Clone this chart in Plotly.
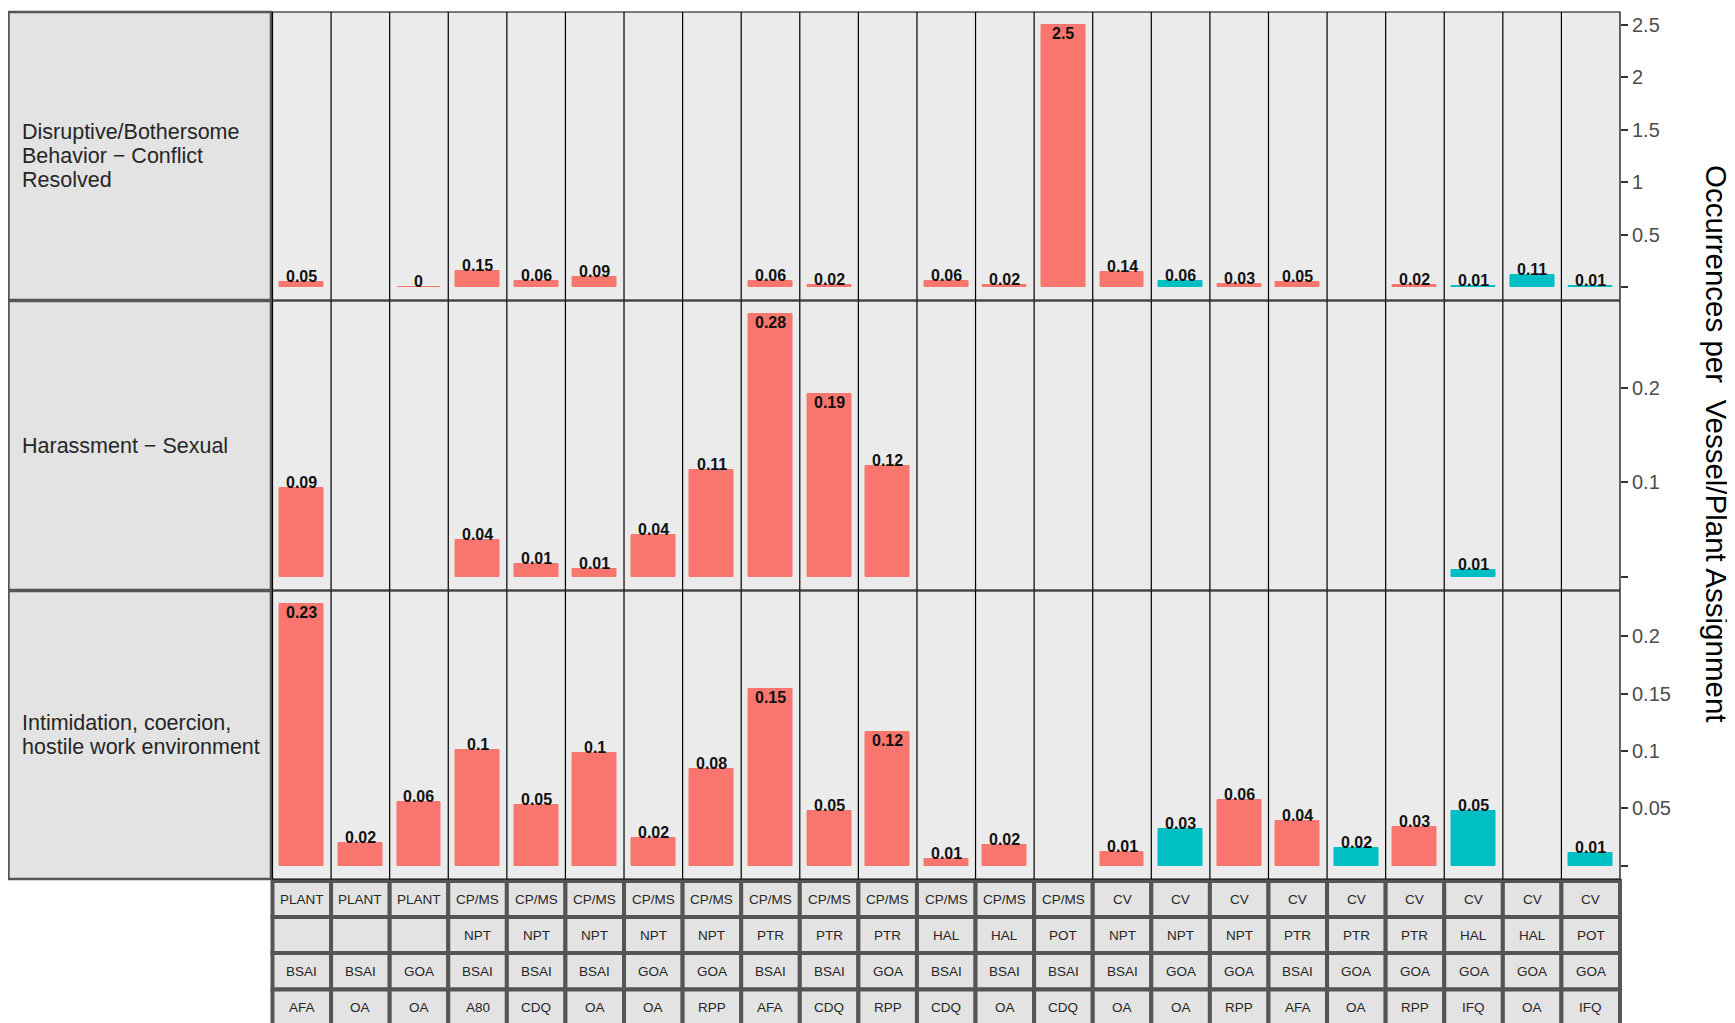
import plotly.graph_objects as go

# ---------------- data ----------------
facet_lines = [
    ["Disruptive/Bothersome", "Behavior \u2212 Conflict", "Resolved"],
    ["Harassment \u2212 Sexual"],
    ["Intimidation, coercion,", "hostile work environment"],
]

sector = ["PLANT", "PLANT", "PLANT", "CP/MS", "CP/MS", "CP/MS", "CP/MS", "CP/MS", "CP/MS", "CP/MS", "CP/MS",
          "CP/MS", "CP/MS", "CP/MS", "CV", "CV", "CV", "CV", "CV", "CV", "CV", "CV", "CV"]
gear = ["", "", "", "NPT", "NPT", "NPT", "NPT", "NPT", "PTR", "PTR", "PTR",
        "HAL", "HAL", "POT", "NPT", "NPT", "NPT", "PTR", "PTR", "PTR", "HAL", "HAL", "POT"]
region = ["BSAI", "BSAI", "GOA", "BSAI", "BSAI", "BSAI", "GOA", "GOA", "BSAI", "BSAI", "GOA",
          "BSAI", "BSAI", "BSAI", "BSAI", "GOA", "GOA", "BSAI", "GOA", "GOA", "GOA", "GOA", "GOA"]
program = ["AFA", "OA", "OA", "A80", "CDQ", "OA", "OA", "RPP", "AFA", "CDQ", "RPP",
           "CDQ", "OA", "CDQ", "OA", "OA", "RPP", "AFA", "OA", "RPP", "IFQ", "OA", "IFQ"]
coverage = ["Full", "Full", "Full", "Full", "Full", "Full", "Full", "Full", "Full", "Full", "Full",
            "Full", "Full", "Full", "Full", "Partial", "Full", "Full", "Partial", "Full", "Partial", "Partial", "Partial"]

disruptive = [0.05, None, 0, 0.15, 0.06, 0.09, None, None, 0.06, 0.02, None,
              0.06, 0.02, 2.5, 0.14, 0.06, 0.03, 0.05, None, 0.02, 0.01, 0.11, 0.01]
harassment = [0.094, None, None, 0.039, 0.014, 0.008, 0.044, 0.113, 0.278, 0.193, 0.117,
              None, None, None, None, None, None, None, None, None, 0.007, None, None]
intimidation = [0.228, 0.020, 0.056, 0.101, 0.053, 0.098, 0.024, 0.084, 0.154, 0.048, 0.117,
                0.006, 0.018, None, 0.012, 0.032, 0.057, 0.039, 0.016, 0.034, 0.048, None, 0.011]

rows_values = [disruptive, harassment, intimidation]
tick_vals = [[0, 0.5, 1, 1.5, 2, 2.5], [0, 0.1, 0.2], [0, 0.05, 0.1, 0.15, 0.2]]
tick_text = [["", "0.5", "1", "1.5", "2", "2.5"], ["", "0.1", "0.2"], ["", "0.05", "0.1", "0.15", "0.2"]]
y_title = "Occurrences per \u00a0Vessel/Plant Assignment"

# ---------------- layout constants (page pixels) ----------------
W, H = 1735, 1023
OFF = 8  # the page body margin shifts the figure by this much
FILL = {"Full": "#F8766D", "Partial": "#00BFC4"}
FONT = "Liberation Sans, Arial, sans-serif"
PANEL_L, PANEL_R = 272.5, 1620.0
ROW_PX = [(12, 300), (301, 590), (591, 879)]
STRIP_L = 8.5
STRIP_ROWS = [881, 917, 953, 989.5, 1026]
n = len(sector)
colw = (PANEL_R - PANEL_L) / n


def fx(x):
    return (x - OFF) / W


def fy(y):
    return 1 - (y - OFF) / H


fig = go.Figure()
shapes = []
annotations = []

for r, vals in enumerate(rows_values):
    ax = "" if r == 0 else str(r + 1)
    xs = [i for i, v in enumerate(vals) if v is not None]
    ys = [v for v in vals if v is not None]
    cols = [FILL[coverage[i]] for i in xs]
    fig.add_trace(go.Bar(
        x=xs, y=ys, width=0.75, marker=dict(color=cols, line=dict(color=cols, width=1)),
        xaxis="x" + ax, yaxis="y" + ax, showlegend=False, hoverinfo="skip"))
    vmax = max(ys)
    top, bot = ROW_PX[r]
    fig.layout["xaxis" + ax] = dict(domain=[fx(PANEL_L), fx(PANEL_R)], range=[-0.5, n - 0.5],
                                    visible=False, anchor="y" + ax, fixedrange=True)
    fig.layout["yaxis" + ax] = dict(domain=[fy(bot), fy(top)], range=[-0.05 * vmax, 1.05 * vmax],
                                    side="right", anchor="x" + ax, showgrid=False, zeroline=False,
                                    showline=False, ticks="outside", ticklen=7, tickwidth=2,
                                    tickcolor="#333333", tickvals=tick_vals[r], ticktext=tick_text[r],
                                    tickfont=dict(family=FONT, size=20, color="#4D4D4D"),
                                    fixedrange=True)
    # bar value labels
    for i, v in zip(xs, ys):
        lab = f"{round(v, 2):g}"
        inside = v > 0.5 * vmax
        annotations.append(dict(
            x=i, y=v, xref="x" + ax, yref="y" + ax, text=lab, showarrow=False,
            yanchor="top" if inside else "bottom", yshift=2 if inside else -5,
            font=dict(family=FONT, size=16, color="#111111", weight="bold")))
    # panel border and column separators
    shapes.append(dict(type="rect", xref="paper", yref="paper", x0=fx(PANEL_L), x1=fx(PANEL_R),
                       y0=fy(bot), y1=fy(top), line=dict(color="#000000", width=1.2), layer="above"))
    for k in range(1, n):
        shapes.append(dict(type="line", xref="x" + ax, yref="y" + ax + " domain", x0=k - 0.5, x1=k - 0.5,
                           y0=0, y1=1, line=dict(color="#000000", width=1.2), layer="above"))
    # left strip
    shapes.append(dict(type="rect", xref="paper", yref="paper", x0=fx(STRIP_L), x1=fx(PANEL_L - 1.5),
                       y0=fy(bot), y1=fy(top), fillcolor="#E3E3E3",
                       line=dict(color="#555555", width=2.5), layer="below"))
    lines = facet_lines[r]
    mid = (top + bot) / 2
    for j, t in enumerate(lines):
        yc = mid + (j - (len(lines) - 1) / 2) * 24
        annotations.append(dict(x=fx(20), y=fy(yc), xref="paper", yref="paper", text=t,
                                showarrow=False, xanchor="left", yanchor="middle",
                                font=dict(family=FONT, size=21.5, color="#262626")))

# bottom strips
strip_rows = [sector, gear, region, program]
for s, labels in enumerate(strip_rows):
    y0p, y1p = STRIP_ROWS[s], STRIP_ROWS[s + 1]
    for i, t in enumerate(labels):
        x0p = PANEL_L + i * colw
        x1p = x0p + colw
        shapes.append(dict(type="rect", xref="paper", yref="paper", x0=fx(x0p), x1=fx(x1p),
                           y0=fy(y1p), y1=fy(y0p), fillcolor="#E3E3E3",
                           line=dict(color="#555555", width=4), layer="below"))
        if t:
            annotations.append(dict(x=fx((x0p + x1p) / 2), y=fy((y0p + y1p) / 2), xref="paper", yref="paper",
                                    text=t, showarrow=False, xanchor="center", yanchor="middle",
                                    font=dict(family=FONT, size=13.5, color="#262626")))

annotations.append(dict(x=fx(1717), y=fy(444), xref="paper", yref="paper", text=y_title,
                        showarrow=False, textangle=90, xanchor="center", yanchor="middle",
                        font=dict(family=FONT, size=29.5, color="#000000")))

fig.update_layout(
    width=W, height=H, margin=dict(l=0, r=0, t=0, b=0),
    paper_bgcolor="#FFFFFF", plot_bgcolor="#EBEBEB",
    shapes=shapes, annotations=annotations, barmode="overlay", bargap=0,
    font=dict(family=FONT),
)

fig.write_html("out.html")
